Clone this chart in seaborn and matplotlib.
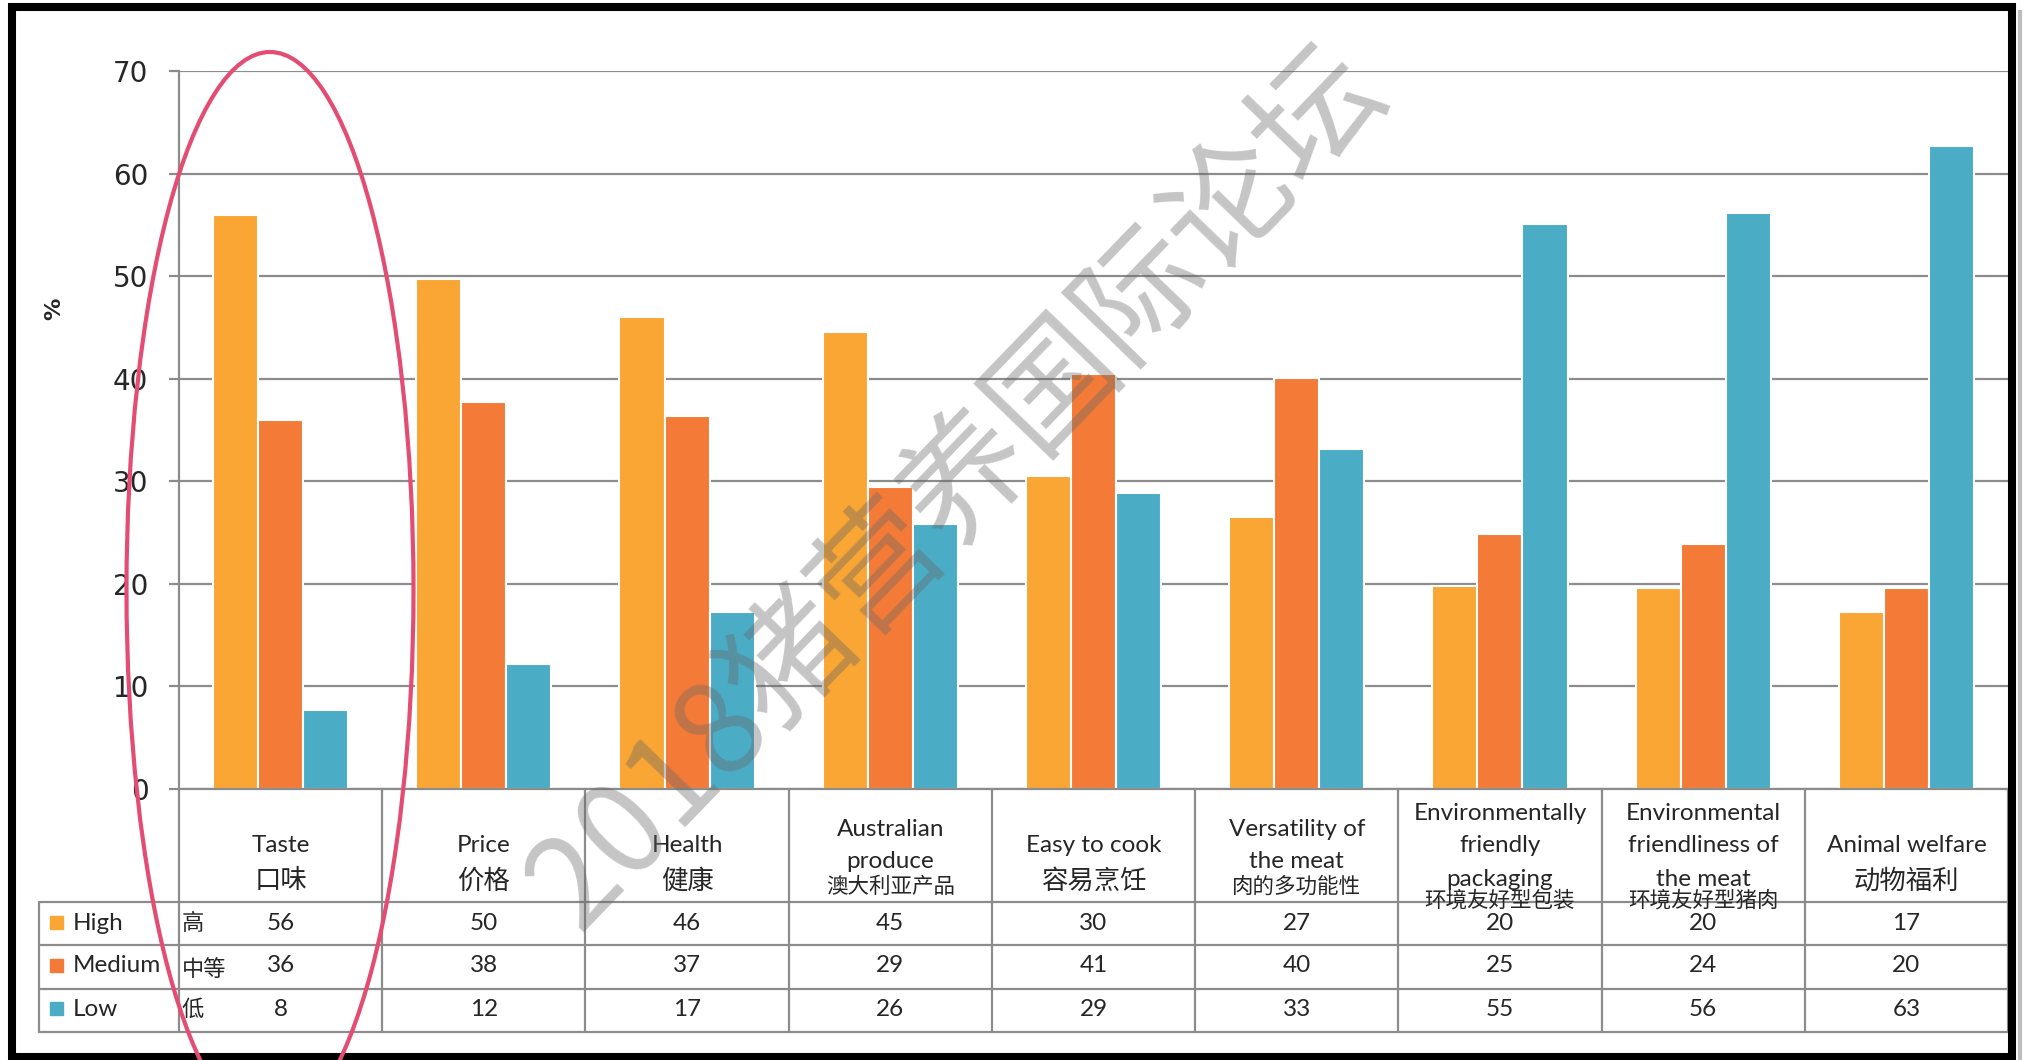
import seaborn as sns
import matplotlib.pyplot as plt
import matplotlib.patches as mpatches
import pandas as pd
import numpy as np

# 数据
categories = ['Taste', 'Price', 'Health', 'Australian produce', 'Easy to cook',
              'Versatility of the meat', 'Environmentally friendly packaging',
              'Environmental friendliness of the meat', 'Animal welfare']
header_en = ['Taste', 'Price', 'Health', 'Australian\nproduce', 'Easy to cook',
             'Versatility of\nthe meat', 'Environmentally\nfriendly\npackaging',
             'Environmental\nfriendliness of\nthe meat', 'Animal welfare']
header_cn = ['口味', '价格', '健康', '澳大利亚产品', '容易烹饪',
             '肉的多功能性', '环境友好型包装', '环境友好型猪肉', '动物福利']
levels = ['High', 'Medium', 'Low']
levels_cn = ['高', '中等', '低']

# 柱高
high = [56.0, 49.7, 46.0, 44.6, 30.5, 26.5, 19.8, 19.6, 17.3]
medium = [36.0, 37.7, 36.4, 29.4, 40.5, 40.1, 24.9, 23.9, 19.6]
low = [7.7, 12.2, 17.3, 25.8, 28.9, 33.1, 55.1, 56.2, 62.7]

# 表格中显示的取整数值
high_tbl = [56, 50, 46, 45, 30, 27, 20, 20, 17]
medium_tbl = [36, 38, 37, 29, 41, 40, 25, 24, 20]
low_tbl = [8, 12, 17, 26, 29, 33, 55, 56, 63]

colors = ['#F9A634', '#F47B37', '#4BACC6']
watermark = '2018猪营养国际论坛'

W, H = 2027, 1060

sns.set_style('white')
plt.rcParams['font.family'] = ['Lato', 'Noto Sans CJK SC', 'DejaVu Sans']
plt.rcParams['axes.unicode_minus'] = False

df = pd.DataFrame({
    'category': categories * 3,
    'level': np.repeat(levels, len(categories)),
    'value': high + medium + low,
})

fig = plt.figure(figsize=(W / 100, H / 100), dpi=100)
fig.patch.set_facecolor('white')

y0_px, y70_px = 789, 71
ax = fig.add_axes([179 / W, (H - y0_px) / H, (2008 - 179) / W, (y0_px - y70_px) / H])

sns.barplot(data=df, x='category', y='value', hue='level', order=categories,
            hue_order=levels, palette=colors, saturation=1, width=0.665,
            edgecolor='white', linewidth=1.5, legend=False, errorbar=None,
            ax=ax, zorder=2)

grid_c = '#8c8c8c'
ax.set_xlim(-0.5, len(categories) - 0.5)
ax.set_ylim(0, 70)
ax.set_yticks(range(0, 71, 10))
ax.yaxis.grid(True, color=grid_c, linewidth=1.6)
ax.set_axisbelow(True)
ax.set_xlabel('')
ax.set_ylabel('')
ax.tick_params(axis='x', length=0, labelbottom=False)
ax.tick_params(axis='y', direction='out', length=7, width=1.6, color=grid_c,
               labelsize=20, pad=15, left=True)
for lab in ax.get_yticklabels():
    lab.set_fontfamily('DejaVu Sans')
for s in ['top', 'right']:
    ax.spines[s].set_visible(False)
for s in ['left', 'bottom']:
    ax.spines[s].set_color(grid_c)
    ax.spines[s].set_linewidth(1.6)

fig.text(54 / W, 1 - 309 / H, '%', rotation=90, ha='center', va='center',
         fontsize=16, fontweight='bold', family='DejaVu Sans')

# 覆盖层（像素坐标），用于数据表、水印、圈注
tab = fig.add_axes([0, 0, 1, 1], zorder=5)
tab.set_xlim(0, W)
tab.set_ylim(H, 0)
tab.axis('off')
tab.patch.set_alpha(0)

bounds = np.arange(len(categories) + 1) - 0.5
bx = ax.transData.transform(np.column_stack([bounds, np.zeros_like(bounds)]))[:, 0]
cx = (bx[:-1] + bx[1:]) / 2

row_lines = [902, 945, 989, 1032]
row_mid = [923, 966, 1009]
tbl_left = 39
lc = '#8c8c8c'
lw = 1.6

for x in bx:
    tab.plot([x, x], [y0_px, row_lines[-1]], color=lc, lw=lw)
tab.plot([tbl_left, tbl_left], [row_lines[0], row_lines[-1]], color=lc, lw=lw)
for y in row_lines:
    tab.plot([tbl_left, bx[-1]], [y, y], color=lc, lw=lw)

fam = ['Lato', 'Noto Sans CJK SC']
for i, (en, cn) in enumerate(zip(header_en, header_cn)):
    lines = en.split('\n')
    n = len(lines)
    ys = {1: [845], 2: [829, 861], 3: [814, 845, 879]}[n]
    cy = {1: 881, 2: 887, 3: 901}[n]
    for ln, y in zip(lines, ys):
        tab.text(cx[i], y, ln, ha='center', va='center', fontsize=17.5, family=fam)
    tab.text(cx[i], cy, cn, ha='center', va='center',
             fontsize=19 if len(cn) <= 4 else 15.5, family='Noto Sans CJK SC')

for r, (lev, lev_cn, vals, col) in enumerate(zip(levels, levels_cn,
                                                 [high_tbl, medium_tbl, low_tbl], colors)):
    y = row_mid[r]
    tab.add_patch(mpatches.Rectangle((50, y - 7), 13, 13, color=col))
    tab.text(73, y, lev, ha='left', va='center', fontsize=17.5, family=fam)
    tab.text(bx[0] + 3, y + (4 if len(lev_cn) > 1 else 0), lev_cn, ha='left',
             va='center', fontsize=16, family='Noto Sans CJK SC')
    for i, v in enumerate(vals):
        tab.text(cx[i], y, str(v), ha='center', va='center', fontsize=17.5, family=fam)

# 水印
tab.text(958, 488, watermark, rotation=46, ha='center', va='center',
         rotation_mode='anchor', fontsize=91, color='#666666', alpha=0.38,
         family='Noto Sans CJK SC', zorder=10)

# 红色圈注
tab.add_patch(mpatches.Ellipse((270, 590), 287, 1076, fill=False,
                               edgecolor='#E44D73', linewidth=3, zorder=11))

# 黑色边框
bw = 5.8
tab.plot([12, 12], [3, H], color='black', lw=bw, solid_capstyle='butt')
tab.plot([8, 2016], [7, 7], color='black', lw=bw, solid_capstyle='butt')
tab.plot([2012, 2012], [3, H], color='black', lw=bw, solid_capstyle='butt')
tab.plot([8, 2016], [1057, 1057], color='black', lw=bw, solid_capstyle='butt')
tab.plot([2020, 2020], [10, H], color='#bdbdbd', lw=3, solid_capstyle='butt')

plt.savefig('out.png', dpi=100)
